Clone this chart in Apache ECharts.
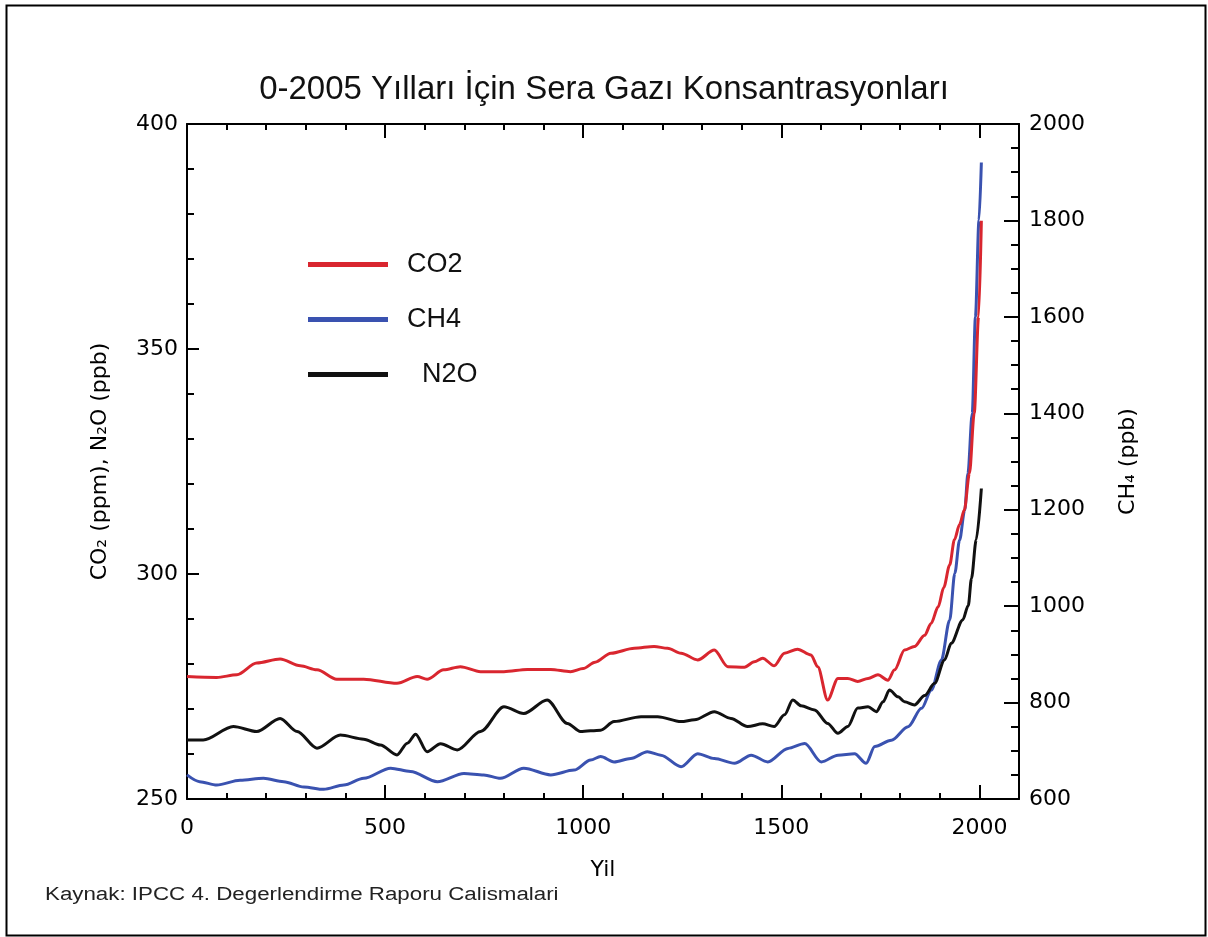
<!DOCTYPE html>
<html>
<head>
<meta charset="utf-8">
<script src="https://cdn.jsdelivr.net/npm/echarts@6/dist/echarts.min.js"></script>
<style>
html,body{margin:0;padding:0;background:#fff;}
#chart{width:1208px;height:937px;}
</style>
</head>
<body>
<div id="chart"></div>
<script>
// ---- Data ----
const co2Years = [0,75,126,176,235,286,328,378,446,530,581,606,648,690,741,800,859,918,968,1000,1030,1070,1129,1179,1213,1247,1289,1331,1365,1407,1432,1453,1482,1508,1541,1575,1592,1617,1643,1668,1693,1719,1744,1769,1786,1811,1836,1862,1878,1896,1910,1925,1937,1950,1962,1975,1987,1998,2005];
const co2Values = [277.2,277,277.6,280.2,281.1,279.6,278.7,276.6,276.6,275.7,277.2,276.6,278.7,279.4,278.3,278.3,278.8,278.8,278.3,279,280.4,282.4,283.5,283.9,283.5,282.4,280.9,283.1,279.4,279.3,280.5,281.3,279.6,282.4,283.3,282,279.4,272,276.8,276.8,276.1,276.8,277.6,276.4,278.7,283.1,283.9,286.4,289,292.7,297,302,307.6,311,314.2,322.4,335.7,357.2,378.5];

const ch4Years = [0,32,75,134,193,244,295,345,396,446,514,564,632,699,749,791,850,918,977,1019,1044,1078,1120,1162,1196,1247,1289,1331,1382,1424,1466,1517,1559,1601,1643,1685,1714,1736,1778,1820,1854,1879,1904,1925,1938,1950,1963,1971,1982,1990,1999,2005];
const ch4Values = [650,636,629,639,643,636,625,620,629,643,664,657,636,653,650,643,664,650,660,681,688,677,684,698,691,667,694,684,674,691,677,705,715,677,691,694,674,709,722,750,788,826,888,971,1068,1137,1199,1275,1400,1600,1801,1920];

const n2oYears = [0,41,117,176,235,278,328,387,446,488,530,556,577,606,640,682,741,800,850,909,960,993,1044,1078,1146,1188,1247,1281,1331,1373,1415,1453,1482,1508,1529,1550,1584,1617,1643,1668,1693,1719,1740,1757,1773,1795,1811,1836,1862,1887,1912,1929,1958,1972,1980,1992,2005];
const n2oValues = [263.1,263.1,266.1,265,267.9,265,261.3,264.2,263.3,262,259.8,262.4,264.4,260.5,262.3,260.9,265,270.5,269,272,266.8,265,265.3,267.2,268.3,268.3,267.2,267.6,269.4,267.9,266.1,266.7,266.1,268.7,272,270.7,269.8,266.8,264.6,266.1,270.2,270.5,269.4,271.6,274.2,272.7,271.6,270.9,273,275.7,280.9,284.6,289.8,293,299,307.6,319];

const seriesNames = ['CO2', 'CH4', 'N2O'];
const titleText = '0-2005 Yılları İçin Sera Gazı Konsantrasyonları';
const leftAxisName = 'CO₂ (ppm), N₂O (ppb)';
const rightAxisName = 'CH₄ (ppb)';
const xAxisName = 'Yil';
const sourceText = 'Kaynak: IPCC 4. Degerlendirme Raporu Calismalari';

function zip(xs, ys) { return xs.map((x, i) => [x, ys[i]]); }

const chart = echarts.init(document.getElementById('chart'));
const tickFont = { fontFamily: 'DejaVu Sans', fontSize: 22, color: '#000' };
const lineStyleAxis = { color: '#000', width: 2 };
const axisLineOn = { show: true, onZero: false, lineStyle: lineStyleAxis };
const axisLineOff = { show: false, onZero: false };

const option = {
  backgroundColor: '#fff',
  animation: false,
  title: {
    text: titleText,
    left: 'center',
    top: 68,
    textStyle: { fontFamily: 'Liberation Sans', fontSize: 33, fontWeight: 'normal', color: '#111' }
  },
  legend: {
    orient: 'vertical',
    left: 303,
    top: 246,
    itemWidth: 80,
    itemHeight: 5,
    itemGap: 28,
    icon: 'rect',
    formatter: n => n === 'N2O' ? '  N2O' : n,
    textStyle: { fontFamily: 'Liberation Sans', fontSize: 27, lineHeight: 26, color: '#111', padding: [0, 0, 0, 14] },
    data: seriesNames
  },
  grid: { left: 187, top: 124, right: 189, bottom: 138, containLabel: false },
  xAxis: [
    {
      type: 'value', position: 'bottom', min: 0, max: 2100, interval: 500,
      axisLine: axisLineOn,
      axisTick: { show: true, inside: true, length: 14, lineStyle: lineStyleAxis },
      axisLabel: Object.assign({ margin: 18, formatter: v => (v % 500 === 0 ? String(v) : '') }, tickFont),
      splitLine: { show: false },
      name: xAxisName, nameLocation: 'middle', nameGap: 60,
      nameTextStyle: { fontFamily: 'DejaVu Sans', fontSize: 22, color: '#000' }
    },
    {
      type: 'value', position: 'bottom', min: 0, max: 2100, interval: 100,
      axisLine: axisLineOff,
      axisTick: { show: true, inside: true, length: 6, lineStyle: lineStyleAxis },
      axisLabel: { show: false }, splitLine: { show: false }
    },
    {
      type: 'value', position: 'top', min: 0, max: 2100, interval: 500,
      axisLine: axisLineOn,
      axisTick: { show: true, inside: true, length: 14, lineStyle: lineStyleAxis },
      axisLabel: { show: false }, splitLine: { show: false }
    },
    {
      type: 'value', position: 'top', min: 0, max: 2100, interval: 100,
      axisLine: axisLineOff,
      axisTick: { show: true, inside: true, length: 6, lineStyle: lineStyleAxis },
      axisLabel: { show: false }, splitLine: { show: false }
    }
  ],
  yAxis: [
    {
      type: 'value', position: 'left', min: 250, max: 400, interval: 50,
      axisLine: axisLineOn,
      axisTick: { show: true, inside: true, length: 12, lineStyle: lineStyleAxis },
      minorTick: { show: true, splitNumber: 5, length: 7, lineStyle: lineStyleAxis },
      axisLabel: Object.assign({ margin: 9, formatter: v => String(v) }, tickFont),
      splitLine: { show: false }, minorSplitLine: { show: false },
      name: leftAxisName, nameLocation: 'middle', nameGap: 76, nameRotate: 90,
      nameTextStyle: { fontFamily: 'DejaVu Sans', fontSize: 22, color: '#000' }
    },
    {
      type: 'value', position: 'right', min: 600, max: 2000, interval: 200,
      axisLine: axisLineOn,
      axisTick: { show: true, inside: true, length: 15, lineStyle: lineStyleAxis },
      minorTick: { show: true, splitNumber: 4, length: 8, lineStyle: lineStyleAxis },
      axisLabel: Object.assign({ margin: 10, formatter: v => String(v) }, tickFont),
      splitLine: { show: false }, minorSplitLine: { show: false },
      name: rightAxisName, nameLocation: 'middle', nameGap: 98, nameRotate: 90,
      nameTextStyle: { fontFamily: 'DejaVu Sans', fontSize: 22, color: '#000' }
    }
  ],
  graphic: [
    {
      type: 'rect', left: 4, top: 3, silent: true,
      shape: { width: 1199, height: 930 },
      style: { fill: 'none', stroke: '#000', lineWidth: 2 }
    },
    {
      type: 'text', x: 45, y: 886, scaleX: 1.24, silent: true,
      style: { text: sourceText, font: '18px "Liberation Sans"', fill: '#222' }
    }
  ],
  series: [
    {
      name: seriesNames[0], type: 'line', xAxisIndex: 0, yAxisIndex: 0,
      data: zip(co2Years, co2Values), showSymbol: false, smooth: 0.3, smoothMonotone: 'x',
      lineStyle: { color: '#d9262f', width: 3 }, itemStyle: { color: '#d9262f' }, z: 3
    },
    {
      name: seriesNames[1], type: 'line', xAxisIndex: 0, yAxisIndex: 1,
      data: zip(ch4Years, ch4Values), showSymbol: false, smooth: 0.3, smoothMonotone: 'x',
      lineStyle: { color: '#3a52b0', width: 3 }, itemStyle: { color: '#3a52b0' }, z: 2
    },
    {
      name: seriesNames[2], type: 'line', xAxisIndex: 0, yAxisIndex: 0,
      data: zip(n2oYears, n2oValues), showSymbol: false, smooth: 0.3, smoothMonotone: 'x',
      lineStyle: { color: '#111111', width: 3 }, itemStyle: { color: '#111111' }, z: 2
    }
  ]
};
chart.setOption(option);
</script>
</body>
</html>
